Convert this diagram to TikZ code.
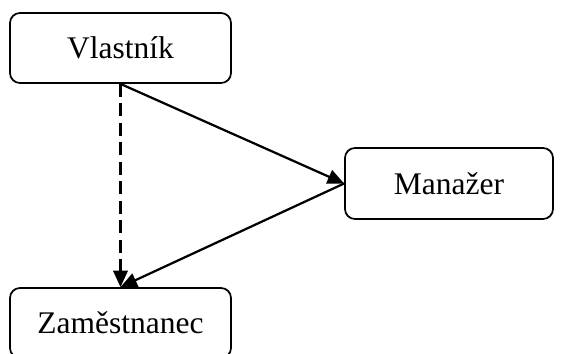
\documentclass[tikz,border=0pt]{standalone}
\usepackage{fontspec}
\setmainfont{Liberation Serif}
\usetikzlibrary{positioning,arrows.meta}
\tikzset{
  >={Triangle[length=6.6pt,width=5.8pt]},
  every node/.style={font=\fontsize{12.6}{14}\selectfont},
  % --- nodes
  box/.style  = {draw=black, rounded corners=4pt, line width=0.7pt, fill=white,
                 align=center, inner sep=0pt, minimum width=88.4pt, minimum height=28pt},
  % --- edges
  e/.style    = {->, line width=0.9pt, draw=black},
  edash/.style= {e, dash pattern=on 5.2pt off 2.6pt},
}
\begin{document}
\begin{tikzpicture}[x=0.4pt,y=-0.4pt]
  \useasboundingbox (0,0) rectangle (563,354);
  \node[box] (vl)  at (120.5,48)  {Vlastník};
  \node[box,minimum width=83.2pt,minimum height=28.4pt] (man) at (449,183.5) {Manažer};
  \node[box] (zam) at (120.5,323) {Zaměstnanec};
  \draw[edash] (vl.south) -- (zam.north);
  \draw[e] (vl.south) -- (man.west);
  \draw[e] (man.west) -- (zam.north);
\end{tikzpicture}
\end{document}
